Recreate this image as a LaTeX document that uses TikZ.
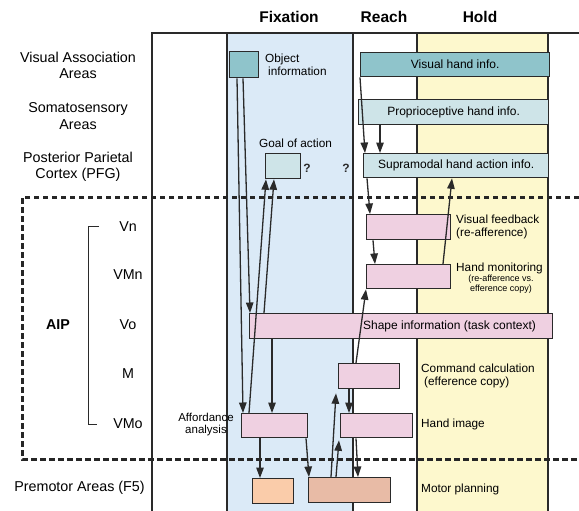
\documentclass[tikz,border=0pt]{standalone}
\usepackage{fontspec}
\setmainfont{Liberation Sans}
\usetikzlibrary{arrows.meta}
\definecolor{fixblue}{HTML}{DBEAF7}
\definecolor{holdyellow}{HTML}{FDF8CD}
\definecolor{teal}{HTML}{8FC4CB}
\definecolor{lteal}{HTML}{CEE4E8}
\definecolor{pinkbox}{HTML}{EFD0E1}
\definecolor{peach}{HTML}{FACCAA}
\definecolor{salmon}{HTML}{E8BBA6}
\definecolor{ink}{HTML}{2A2A2A}
\begin{document}
\begin{tikzpicture}[x=1pt,y=-1pt,
  box/.style={draw=ink, line width=1.3pt, inner sep=0pt, anchor=north west,
    font=\fontsize{12}{14}\selectfont},
  arr/.style={draw=ink, line width=1.3pt, -{Triangle[length=10.5pt,width=7.5pt]}},
  hdr/.style={font=\bfseries\fontsize{15.5}{18}\selectfont, text=black},
  lbl/.style={font=\fontsize{14.3}{16.5}\selectfont, align=center, inner sep=0pt},
  note/.style={font=\fontsize{11.8}{13}\selectfont, align=left, anchor=west, inner sep=0pt},
  tiny/.style={font=\fontsize{9}{10}\selectfont, align=center, inner sep=0pt},
  colline/.style={draw=ink, line width=1.1pt},
  area/.style={draw=black!85, line width=3pt, dash pattern=on 5.5pt off 3.5pt}]
\useasboundingbox (0,0) rectangle (579,511);

% column backgrounds
\fill[fixblue] (227,33) rectangle (353,511);
\fill[holdyellow] (417,33) rectangle (548,511);

% frame and column separators
\draw[colline] (579,33) -- (152,33) -- (152,511);
\foreach \cx in {227,353,417,548} \draw[colline] (\cx,33) -- (\cx,511);

% AIP region, dashed
\draw[area] (579,197) -- (22,197) -- (22,459) -- (579,459);

% column headings
\node[hdr] (hfix) at (289,17) {Fixation};
\node[hdr] (hreach) at (384,17) {Reach};
\node[hdr] (hhold) at (480,17) {Hold};

% row labels
\node[lbl] (lva) at (78,65.5) {Visual Association\\Areas};
\node[lbl] (lss) at (78,116) {Somatosensory\\Areas};
\node[lbl] (lpp) at (78,167) {Posterior Parietal\\Cortex (PFG)};
\node[lbl] (lvn) at (128,227) {Vn};
\node[lbl] (lvmn) at (128,275) {VMn};
\node[lbl] (lvo) at (128,325) {Vo};
\node[lbl] (lm) at (128,374) {M};
\node[lbl] (lvmo) at (128,424) {VMo};
\node[lbl, font=\bfseries\fontsize{14.3}{16.5}\selectfont] (laip) at (58,325) {AIP};
\node[lbl] (lf5) at (79.5,488) {Premotor Areas (F5)};
\draw[ink, line width=1pt] (99,226) -- (88,226) -- (88,424) -- (97,424);

% boxes
\node[box, fill=teal, minimum width=29pt, minimum height=26pt] (obj) at (229,51) {};
\node[box, fill=teal, minimum width=189pt, minimum height=24pt] (vhand) at (360,52) {Visual hand info.};
\node[box, fill=lteal, minimum width=190pt, minimum height=25pt] (proprio) at (358,99) {Proprioceptive hand info.};
\node[box, fill=lteal, minimum width=185pt, minimum height=24pt] (supra) at (363,153) {Supramodal hand action info.};
\node[box, fill=lteal, minimum width=35pt, minimum height=25pt] (goal) at (265,153) {};
\node[box, fill=pinkbox, minimum width=84pt, minimum height=25pt] (vn) at (366,214) {};
\node[box, fill=pinkbox, minimum width=84pt, minimum height=24pt] (vmn) at (366,264) {};
\node[box, fill=pinkbox, minimum width=303pt, minimum height=25pt] (shape) at (249,313) {};
\node[box, fill=pinkbox, minimum width=61pt, minimum height=25pt] (mbox) at (338,363) {};
\node[box, fill=pinkbox, minimum width=72pt, minimum height=24pt] (himg) at (340,413) {};
\node[box, fill=pinkbox, minimum width=66pt, minimum height=24pt] (aff) at (241,413) {};
\node[box, fill=peach, minimum width=41pt, minimum height=25pt] (f5a) at (252,478) {};
\node[box, fill=salmon, minimum width=82pt, minimum height=25pt] (f5b) at (308,477) {};

% box captions
\node[note] (tobj) at (265,64.5) {Object\\\hspace{3pt}information};
\node[note, anchor=center] (tgoal) at (295.5,143) {Goal of action};
\node[font=\bfseries\fontsize{12}{14}\selectfont, text=ink, inner sep=0pt] (q1) at (307,168) {?};
\node[font=\bfseries\fontsize{12}{14}\selectfont, text=ink, inner sep=0pt] (q2) at (346,168) {?};
\node[note] (tvn) at (456,227) {Visual feedback\\(re-afference)};
\node[note] (tvmn) at (456,268) {Hand monitoring};
\node[tiny] (tvmn2) at (501,284) {(re-afference vs.\\efference copy)};
\node[font=\fontsize{12}{14}\selectfont, inner sep=0pt] (tshape) at (449.5,326) {Shape information (task context)};
\node[note] (tm) at (421,375.5) {Command calculation\\\hspace{3pt}(efference copy)};
\node[note] (thimg) at (421,424) {Hand image};
\node[note] (tf5) at (421,489) {Motor planning};
\node[font=\fontsize{11.5}{12}\selectfont, align=center, inner sep=0pt] (taff) at (206,425) {Affordance\\analysis};

% fixation-phase connections
\draw[arr] ([xshift=8pt]obj.south west) -- ([xshift=2pt]aff.north west);
\draw[arr] ([xshift=14pt]obj.south west) -- ([xshift=1pt]shape.north west);
\draw[arr] ([xshift=8pt]aff.north west) -- ([xshift=1pt]goal.south west);
\draw[arr] ([xshift=15pt]shape.north west) -- ([xshift=9pt]goal.south west);
\draw[arr] ([xshift=23pt]shape.south west) -- ([xshift=31pt]aff.north west);
\draw[arr] ([xshift=19pt]aff.south west) -- ([xshift=8pt]f5a.north west);
\draw[arr] ([xshift=65pt]aff.south west) -- ([xshift=1pt]f5b.north west);

% reach/hold connections
\draw[arr] (vhand.south west) -- ([xshift=2pt]supra.north west);
\draw[arr] ([xshift=22pt]proprio.south west) -- ([xshift=17pt]supra.north west);
\draw[arr] ([xshift=4pt]supra.south west) -- ([xshift=4pt]vn.north west);
\draw[arr] ([xshift=7pt]vn.south west) -- ([xshift=9pt]vmn.north west);
\draw[arr] ([xshift=77pt]vmn.north west) -- ([xshift=89pt]supra.south west);
\draw[arr] ([xshift=18pt]mbox.north west) -- (vmn.south west);
\draw[arr] ([xshift=11pt]mbox.south west) -- ([xshift=9pt]himg.north west);
\draw[arr] ([xshift=23pt]f5b.north west) -- ([xshift=-2pt,yshift=-4pt]mbox.south west);
\draw[arr] ([xshift=28pt]f5b.north west) -- ([xshift=-1pt,yshift=-2pt]himg.south west);
\draw[arr] ([xshift=16pt]himg.south west) -- ([xshift=50pt]f5b.north west);
\end{tikzpicture}
\end{document}
